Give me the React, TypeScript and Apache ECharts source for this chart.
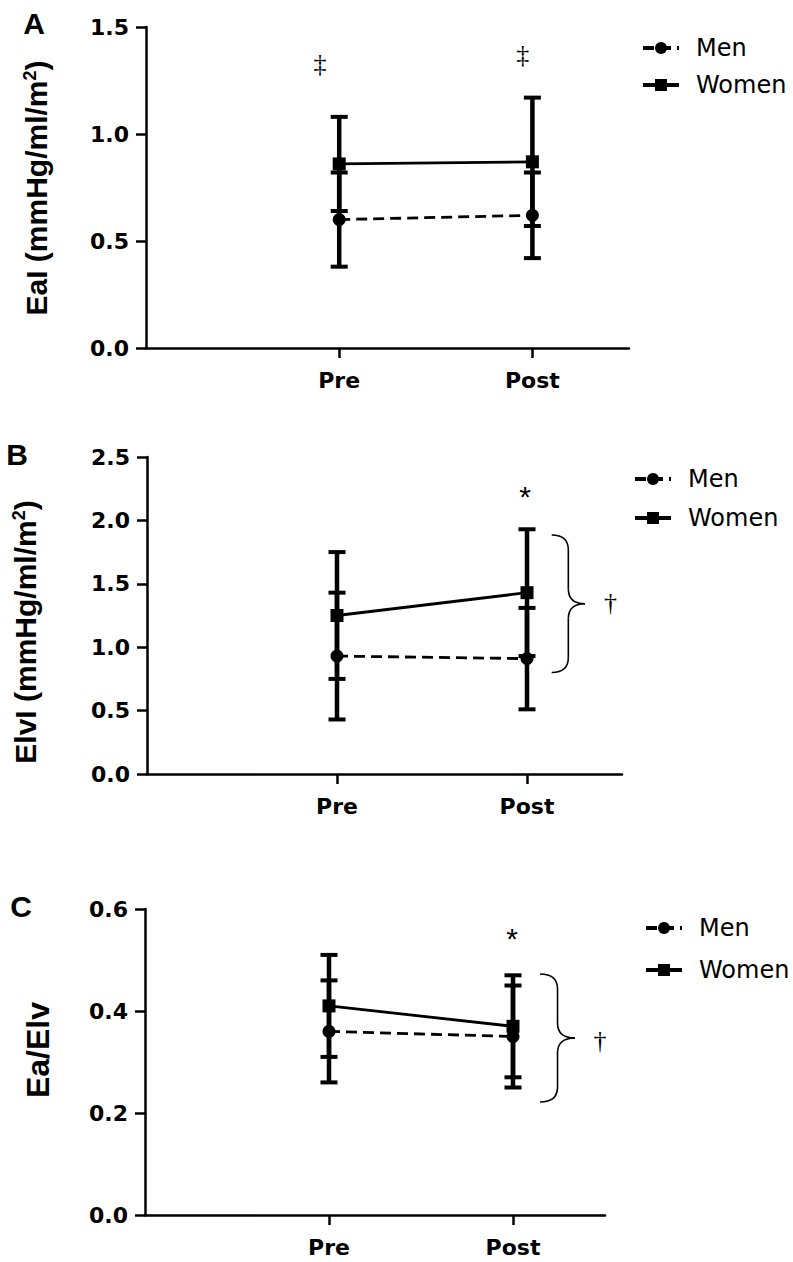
import React, { useEffect, useRef } from "react";
import * as echarts from "echarts";

// ---------- data ----------
const categories = ["Pre", "Post"];
const xPos = [1, 2];

const menA = [0.6, 0.62];
const menASD = [0.22, 0.2];
const womenA = [0.86, 0.87];
const womenASD = [0.22, 0.3];

const menB = [0.93, 0.91];
const menBSD = [0.5, 0.4];
const womenB = [1.25, 1.43];
const womenBSD = [0.5, 0.5];

const menC = [0.36, 0.35];
const menCSD = [0.1, 0.1];
const womenC = [0.41, 0.37];
const womenCSD = [0.1, 0.1];

const yMaxes = [1.5, 2.5, 0.6];
const ySteps = [0.5, 0.5, 0.2];

const letters = ["A", "B", "C"];
const titleMain = ["EaI (mmHg/ml/m", "ElvI (mmHg/ml/m", "Ea/Elv"];
const titleSup = ["2", "2", ""];
const titleTail = [")", ")", ""];

// annotation marks (data coordinates)
const marksA = [
  { x: 0.9, y: 1.33, text: "‡" },
  { x: 1.95, y: 1.37, text: "‡" },
];
const marksB = [
  { x: 1.99, y: 2.19, text: "*" },
  { x: 2.44, y: 1.35, text: "†" },
];
const marksC = [
  { x: 1.995, y: 0.542, text: "*" },
  { x: 2.473, y: 0.343, text: "†" },
];
const braceB = { x0: 2.13, x1: 2.305, yTop: 1.885, yBot: 0.8 };
const braceC = { x0: 2.147, x1: 2.337, yTop: 0.4725, yBot: 0.2216 };

// ---------- layout ----------
const layout = [
  {
    grid: { left: 146, top: 27, width: 483, height: 321 },
    letter: { x: 34, y: 23 },
    title: { x: 36, y: 188, size: 30 },
    legend: { left: 641, top: 36, gap: 13 },
  },
  {
    grid: { left: 147, top: 457, width: 475, height: 317 },
    letter: { x: 17, y: 454 },
    title: { x: 25, y: 632, size: 30 },
    legend: { left: 633, top: 467, gap: 15 },
  },
  {
    grid: { left: 145, top: 909, width: 460, height: 306 },
    letter: { x: 21, y: 906 },
    title: { x: 38, y: 1050, size: 32 },
    legend: { left: 644, top: 916, gap: 18 },
  },
];

const panels = [
  { men: menA, menSD: menASD, women: womenA, womenSD: womenASD, marks: marksA, brace: null },
  { men: menB, menSD: menBSD, women: womenB, womenSD: womenBSD, marks: marksB, brace: braceB },
  { men: menC, menSD: menCSD, women: womenC, womenSD: womenCSD, marks: marksC, brace: braceC },
];

const BLACK = "#000";

function errorBarRender(params: any, api: any) {
  const x = api.value(0);
  const m = api.value(1);
  const sd = api.value(2);
  const top = api.coord([x, m + sd]);
  const bot = api.coord([x, m - sd]);
  const hw = 8.5;
  return {
    type: "group",
    children: [
      { type: "line", shape: { x1: top[0], y1: top[1], x2: bot[0], y2: bot[1] }, style: { stroke: BLACK, lineWidth: 4.5 } },
      { type: "line", shape: { x1: top[0] - hw, y1: top[1], x2: top[0] + hw, y2: top[1] }, style: { stroke: BLACK, lineWidth: 4 } },
      { type: "line", shape: { x1: bot[0] - hw, y1: bot[1], x2: bot[0] + hw, y2: bot[1] }, style: { stroke: BLACK, lineWidth: 4 } },
    ],
  };
}

function annotRender(marks: any[], brace: any) {
  return (params: any, api: any) => {
    const children: any[] = [];
    marks.forEach((mk) => {
      const p = api.coord([mk.x, mk.y]);
      const isStar = mk.text === "*";
      children.push({
        type: "text",
        x: p[0],
        y: p[1],
        style: {
          text: mk.text,
          fontFamily: isStar ? "Liberation Sans" : "Liberation Serif",
          fontSize: isStar ? 30 : 26,
          fill: BLACK,
          align: "center",
          verticalAlign: "middle",
        },
      });
    });
    if (brace) {
      const a = api.coord([brace.x0, brace.yTop]);
      const b = api.coord([brace.x1, brace.yBot]);
      const x0 = a[0];
      const x2 = b[0];
      const yt = a[1];
      const yb = b[1];
      const xm = (x0 + x2) / 2;
      const ym = (yt + yb) / 2;
      const r = Math.min(15, (yb - yt) / 4);
      const st = { stroke: BLACK, lineWidth: 1.6, fill: "none" };
      children.push(
        { type: "bezierCurve", shape: { x1: x0, y1: yt, cpx1: x0 + (xm - x0) * 0.7, cpy1: yt, cpx2: xm, cpy2: yt + r * 0.35, x2: xm, y2: yt + r }, style: st },
        { type: "line", shape: { x1: xm, y1: yt + r, x2: xm, y2: ym - r }, style: st },
        { type: "bezierCurve", shape: { x1: xm, y1: ym - r, cpx1: xm, cpy1: ym - r * 0.35, cpx2: xm + (x2 - xm) * 0.3, cpy2: ym, x2: x2, y2: ym }, style: st },
        { type: "bezierCurve", shape: { x1: x2, y1: ym, cpx1: xm + (x2 - xm) * 0.3, cpy1: ym, cpx2: xm, cpy2: ym + r * 0.35, x2: xm, y2: ym + r }, style: st },
        { type: "line", shape: { x1: xm, y1: ym + r, x2: xm, y2: yb - r }, style: st },
        { type: "bezierCurve", shape: { x1: xm, y1: yb - r, cpx1: xm, cpy1: yb - r * 0.35, cpx2: x0 + (xm - x0) * 0.7, cpy2: yb, x2: x0, y2: yb }, style: st }
      );
    }
    return { type: "group", children };
  };
}

function buildOption() {
  const axisLineStyle = { color: BLACK, width: 2.5 };
  const tickFont = { color: BLACK, fontFamily: "DejaVu Sans", fontWeight: "bold" as const, fontSize: 22 };

  const series: any[] = [];
  panels.forEach((p, i) => {
    series.push({
      type: "custom",
      xAxisIndex: i,
      yAxisIndex: i,
      z: 1,
      silent: true,
      renderItem: errorBarRender,
      encode: { x: 0, y: 1 },
      data: [
        ...xPos.map((x, j) => [x, p.men[j], p.menSD[j]]),
        ...xPos.map((x, j) => [x, p.women[j], p.womenSD[j]]),
      ],
    });
    series.push({
      name: "Men",
      type: "line",
      xAxisIndex: i,
      yAxisIndex: i,
      z: 3,
      symbol: "circle",
      symbolSize: 13,
      lineStyle: { color: BLACK, width: 2.8, type: [11, 6] },
      itemStyle: { color: BLACK },
      data: xPos.map((x, j) => [x, p.men[j]]),
    });
    series.push({
      name: "Women",
      type: "line",
      xAxisIndex: i,
      yAxisIndex: i,
      z: 3,
      symbol: "rect",
      symbolSize: 13,
      lineStyle: { color: BLACK, width: 2.8, type: "solid" },
      itemStyle: { color: BLACK },
      data: xPos.map((x, j) => [x, p.women[j]]),
    });
    series.push({
      type: "custom",
      xAxisIndex: i,
      yAxisIndex: i,
      z: 4,
      silent: true,
      renderItem: annotRender(p.marks, p.brace),
      encode: { x: 0, y: 1 },
      data: [[1, 0]],
    });
  });

  const graphics: any[] = [];
  layout.forEach((l, i) => {
    graphics.push({
      type: "text",
      x: l.letter.x,
      y: l.letter.y,
      style: {
        text: letters[i],
        fontFamily: "Liberation Sans",
        fontWeight: "bold",
        fontSize: 30,
        fill: BLACK,
        align: "center",
        verticalAlign: "middle",
      },
    });
    const s = l.title.size;
    const txt = titleSup[i]
      ? `{t|${titleMain[i]}}{s|${titleSup[i]}}{t|${titleTail[i]}}`
      : `{t|${titleMain[i]}}`;
    graphics.push({
      type: "text",
      x: l.title.x,
      y: l.title.y,
      rotation: Math.PI / 2,
      style: {
        text: txt,
        fill: BLACK,
        align: "center",
        verticalAlign: "middle",
        rich: {
          t: { fontFamily: "Liberation Sans", fontWeight: "bold", fontSize: s, fill: BLACK },
          s: { fontFamily: "Liberation Sans", fontWeight: "bold", fontSize: Math.round(s * 0.6), fill: BLACK, verticalAlign: "top" },
        },
      },
    });
  });

  return {
    animation: false,
    backgroundColor: "#fff",
    grid: layout.map((l) => ({ ...l.grid, outerBoundsMode: "none", containLabel: false })),
    xAxis: layout.map((l, i) => ({
      type: "value",
      gridIndex: i,
      min: 0,
      max: 2.5,
      interval: 1,
      axisLine: { show: true, onZero: false, lineStyle: axisLineStyle },
      axisTick: { show: true, customValues: xPos, length: 10, lineStyle: axisLineStyle },
      axisLabel: {
        show: true,
        customValues: xPos,
        margin: 21,
        ...tickFont,
        formatter: (v: number) => {
          const k = xPos.indexOf(v);
          return k >= 0 ? categories[k] : "";
        },
      },
      splitLine: { show: false },
    })),
    yAxis: layout.map((l, i) => ({
      type: "value",
      gridIndex: i,
      min: 0,
      max: yMaxes[i],
      interval: ySteps[i],
      axisLine: { show: true, lineStyle: axisLineStyle },
      axisTick: { show: true, length: 10, lineStyle: axisLineStyle },
      axisLabel: { show: true, margin: 17, ...tickFont, formatter: (v: number) => v.toFixed(1) },
      splitLine: { show: false },
    })),
    legend: layout.map((l) => ({
      data: ["Men", "Women"],
      orient: "vertical",
      left: l.legend.left,
      top: l.legend.top,
      itemGap: l.legend.gap,
      itemWidth: 36,
      itemHeight: 15,
      padding: 0,
      selectedMode: false,
      lineStyle: { width: 4 },
      textStyle: { fontFamily: "DejaVu Sans", fontSize: 24, color: BLACK, padding: [0, 0, 0, 12] },
    })),
    graphic: { elements: graphics },
    series,
  };
}

export default function App() {
  const ref = useRef<HTMLDivElement>(null);
  useEffect(() => {
    if (!ref.current) return;
    const chart = echarts.init(ref.current, null, { renderer: "svg" });
    chart.setOption(buildOption() as any);
    return () => chart.dispose();
  }, []);
  return (
    <div
      ref={ref}
      style={{ position: "absolute", left: 0, top: 0, width: 793, height: 1262, background: "#fff" }}
    />
  );
}
